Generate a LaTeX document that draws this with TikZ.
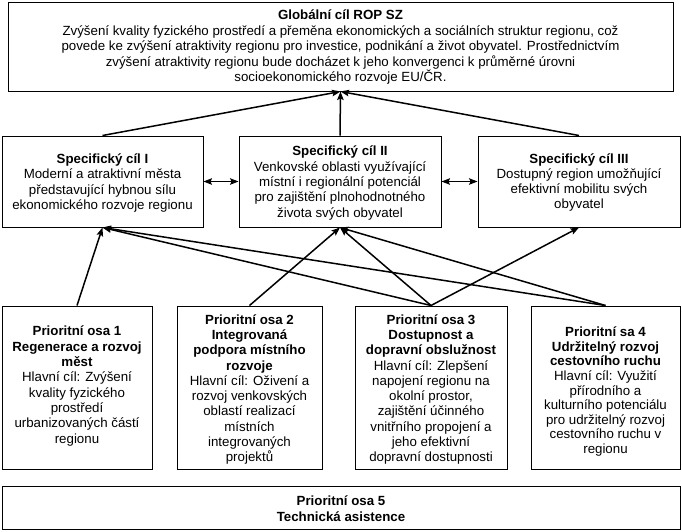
\documentclass[tikz,border=0pt]{standalone}
\usepackage{fontspec}
\setmainfont{Liberation Sans}
\usetikzlibrary{arrows.meta}
\begin{document}
\begin{tikzpicture}[x=1pt,y=-1pt,
  box/.style={draw=black, line width=1pt, inner sep=0pt, rectangle},
  txt/.style={align=center, inner sep=0pt, font=\fontsize{13.3}{15.3}\selectfont},
  arr/.style={line width=1.5pt, -{Stealth[length=8.5pt,width=6.5pt,inset=1.5pt]}},
  darr/.style={line width=1.5pt, {Stealth[length=8.5pt,width=6.5pt,inset=1.5pt]}-{Stealth[length=8.5pt,width=6.5pt,inset=1.5pt]}}]
\fill[white] (0,0) rectangle (682,531);
\useasboundingbox (0,0) rectangle (682,531);

% boxes
\node[box, minimum width=665pt, minimum height=89pt] (top) at (340.5,46.5) {};
\node[box, minimum width=201pt, minimum height=91pt] (sc1) at (102.5,181.5) {};
\node[box, minimum width=202pt, minimum height=91pt] (sc2) at (340,181.5) {};
\node[box, minimum width=202pt, minimum height=91pt] (sc3) at (579,181.5) {};
\node[box, minimum width=150pt, minimum height=163pt] (po1) at (77,387.5) {};
\node[box, minimum width=145pt, minimum height=163pt] (po2) at (249.5,387.5) {};
\node[box, minimum width=152pt, minimum height=163pt] (po3) at (431,387.5) {};
\node[box, minimum width=149pt, minimum height=163pt] (po4) at (605.5,387.5) {};
\node[box, minimum width=678pt, minimum height=43pt] (po5) at (341,507.5) {};

% texts
\node[txt, font=\fontsize{13.3}{15.5}\selectfont] (ttop) at (340.5,47) {\textbf{Globální cíl ROP SZ}\\
Zvýšení kvality fyzického prostředí  a přeměna ekonomických a sociálních struktur regionu, což\\
povede ke zvýšení atraktivity regionu pro investice, podnikání a život obyvatel. Prostřednictvím\\
zvýšení atraktivity regionu bude docházet k jeho konvergenci k průměrné úrovni\\
socioekonomického rozvoje EU/ČR.};
\node[txt] (tsc1) at (102.5,183) {\textbf{Specifický cíl I}\\Moderní a atraktivní města\\představující hybnou sílu\\ekonomického rozvoje regionu};
\node[txt] (tsc2) at (340,183) {\textbf{Specifický cíl II}\\Venkovské oblasti využívající\\místní i regionální potenciál\\pro zajištění plnohodnotného\\života svých obyvatel};
\node[txt] (tsc3) at (579,182.5) {\textbf{Specifický cíl III}\\Dostupný region umožňující\\efektivní mobilitu svých\\obyvatel};
\node[txt] (tpo1) at (77,386) {\textbf{Prioritní osa 1}\\\textbf{Regenerace a rozvoj}\\\textbf{měst}\\Hlavní cíl: Zvýšení\\kvality fyzického\\prostředí\\urbanizovaných částí\\regionu};
\node[txt] (tpo2) at (249.5,389.5) {\textbf{Prioritní osa 2}\\\textbf{Integrovaná}\\\textbf{podpora místního}\\\textbf{rozvoje}\\Hlavní cíl: Oživení a\\rozvoj venkovských\\oblastí realizací\\místních\\integrovaných\\projektů};
\node[txt] (tpo3) at (431,389.5) {\textbf{Prioritní osa 3}\\\textbf{Dostupnost a}\\\textbf{dopravní obslužnost}\\Hlavní cíl: Zlepšení\\napojení regionu na\\okolní prostor,\\zajištění účinného\\vnitřního propojení a\\jeho efektivní\\dopravní dostupnosti};
\node[txt, font=\fontsize{13.3}{14.6}\selectfont] (tpo4) at (605.5,391.5) {\textbf{Prioritní sa 4}\\\textbf{Udržitelný rozvoj}\\\textbf{cestovního ruchu}\\Hlavní cíl: Využití\\přírodního a\\kulturního potenciálu\\pro udržitelný rozvoj\\cestovního ruchu v\\regionu};
\node[txt, font=\bfseries\fontsize{13.3}{15.5}\selectfont] (tpo5) at (341,508.5) {Prioritní osa 5\\Technická asistence};

% connectors
\draw[arr] (sc1.north) -- (top.south);
\draw[arr] (sc2.north) -- (top.south);
\draw[arr] (sc3.north) -- (top.south);
\draw[darr] (sc1.east) -- (sc2.west);
\draw[darr] (sc2.east) -- (sc3.west);
\draw[arr] (po1.north) -- (sc1.south);
\draw[arr] (po3.north) -- (sc1.south);
\draw[arr] (po4.north) -- (sc1.south);
\draw[arr] (po2.north) -- (sc2.south);
\draw[arr] (po3.north) -- (sc2.south);
\draw[arr] (po4.north) -- (sc2.south);
\draw[arr] (po3.north) -- (sc3.south);
\end{tikzpicture}
\end{document}
